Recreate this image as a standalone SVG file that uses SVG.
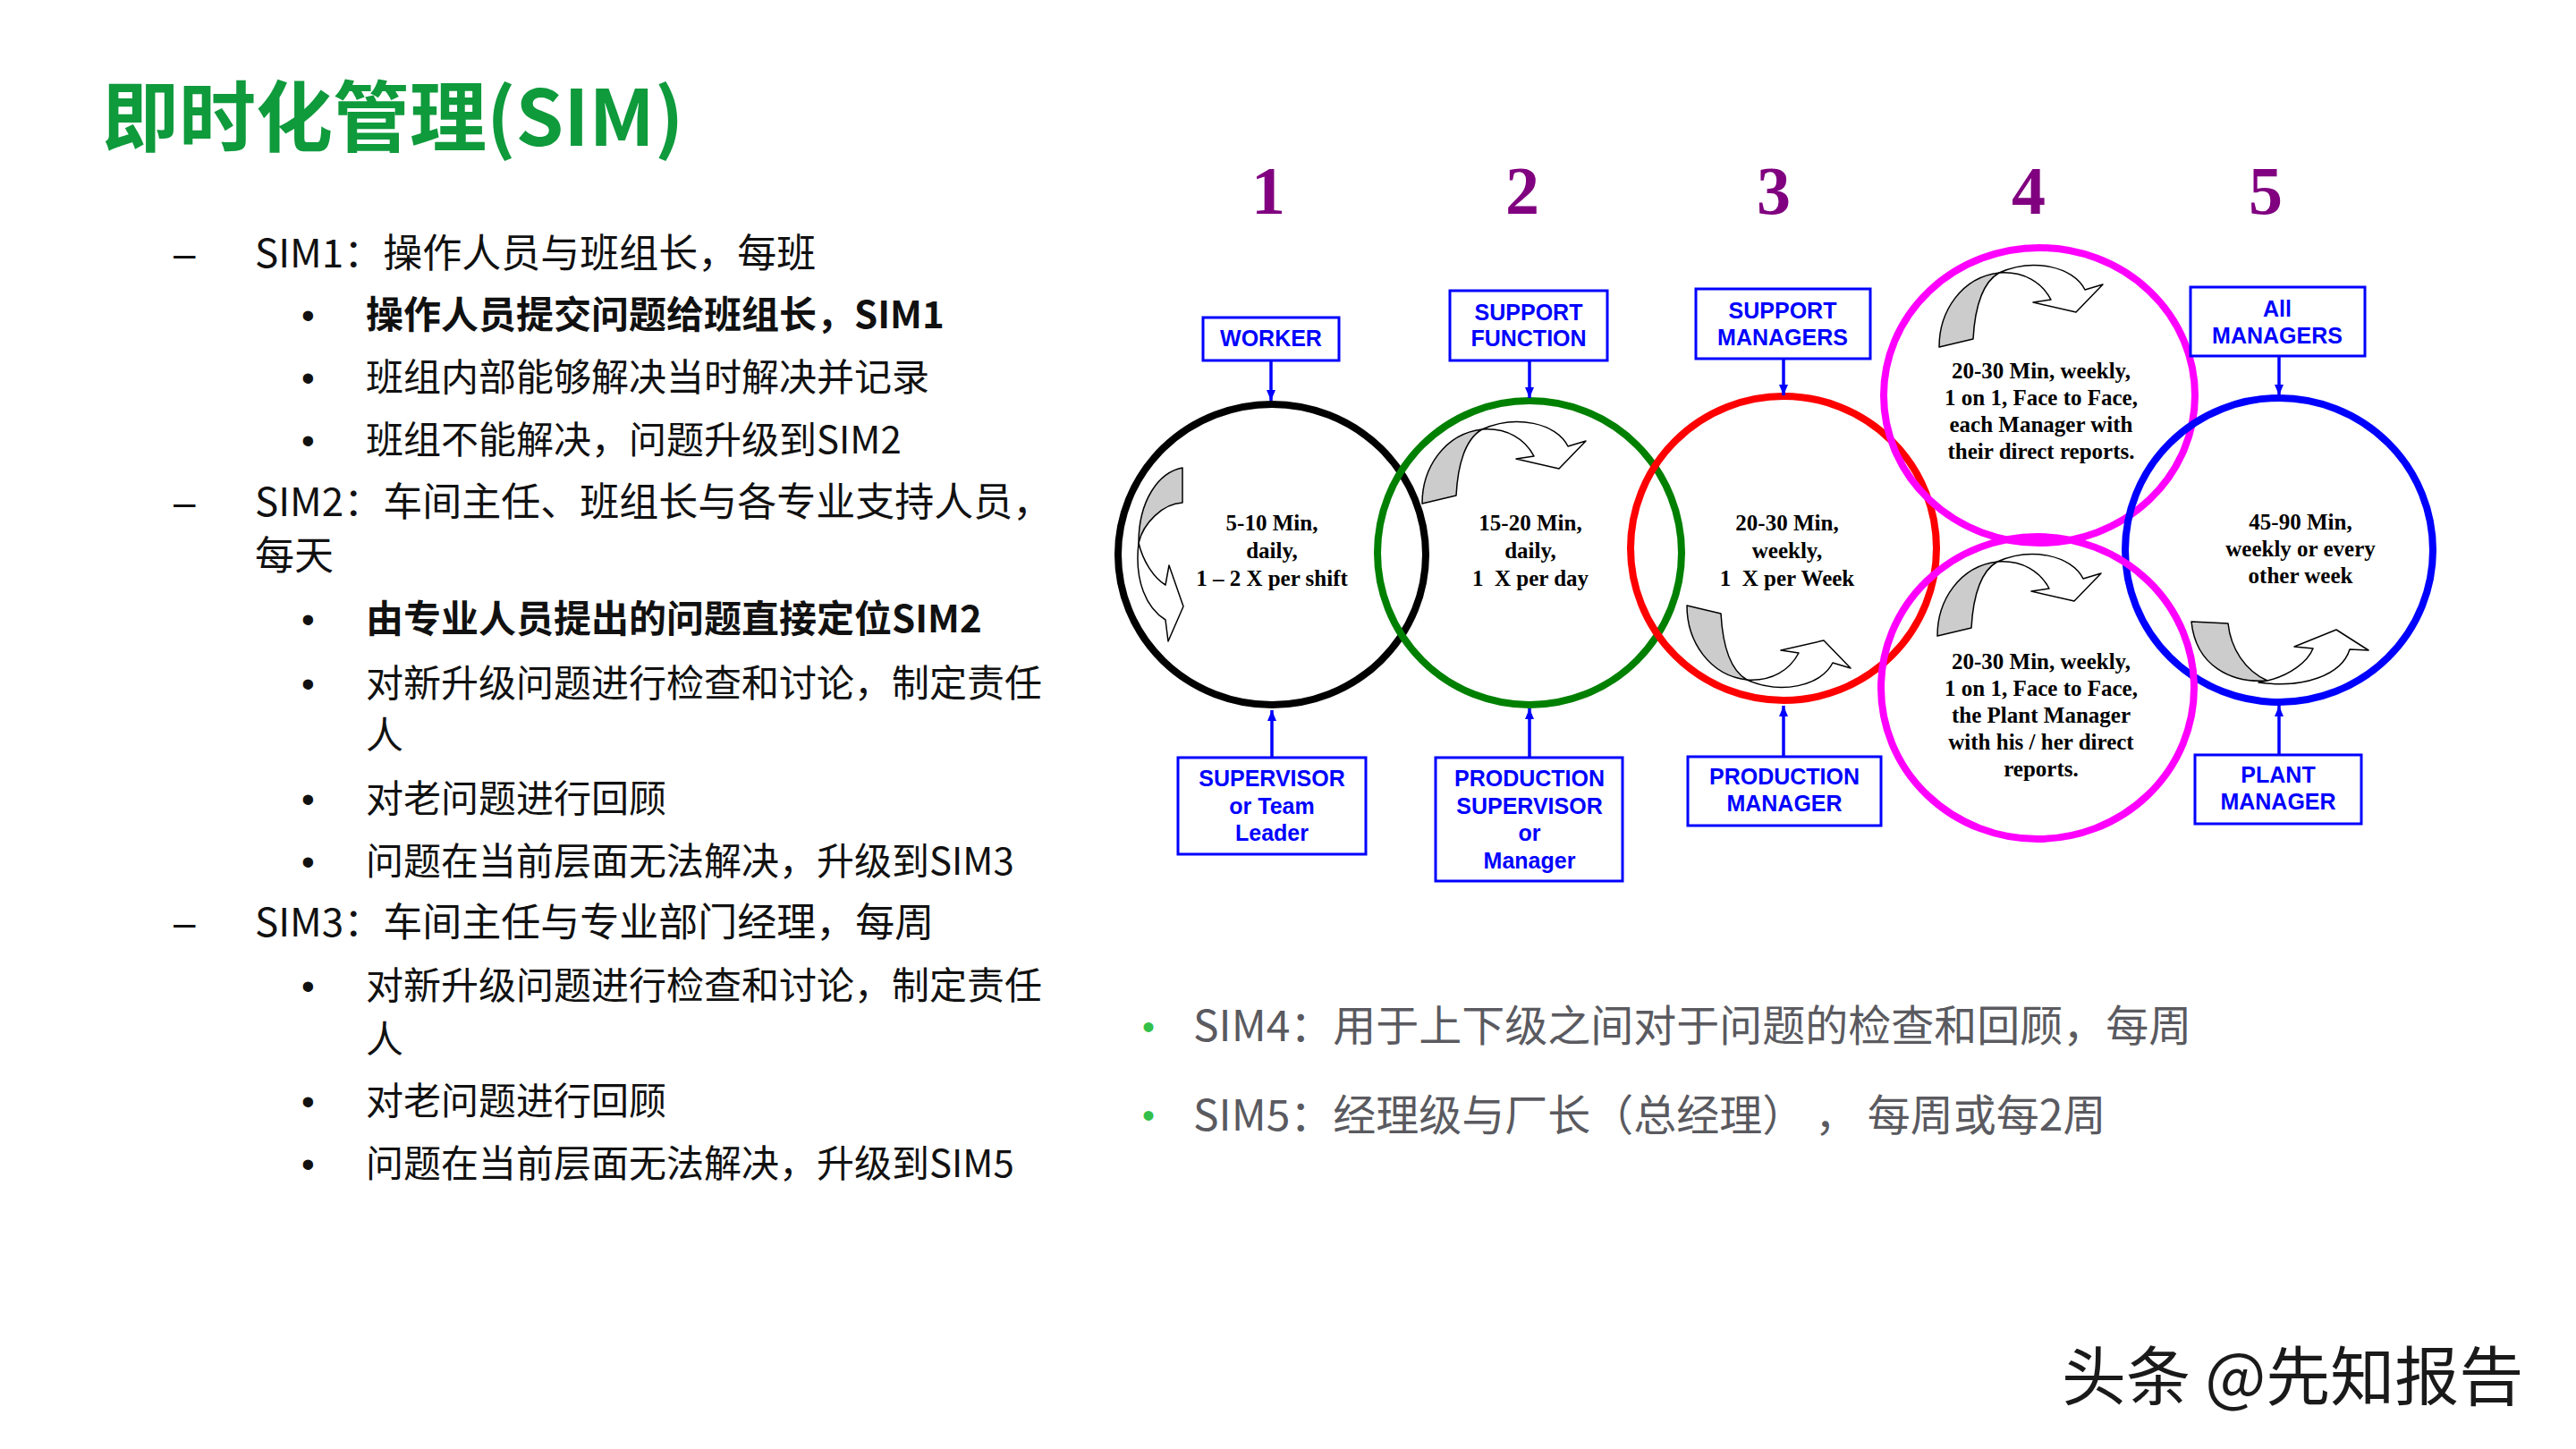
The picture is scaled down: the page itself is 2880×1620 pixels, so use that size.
<svg xmlns="http://www.w3.org/2000/svg" width="2880" height="1620" viewBox="0 0 2880 1620">
<defs>
<style>
.cn{font-family:"Noto Sans CJK SC","Noto Sans",sans-serif;}
.title{font-size:86px;font-weight:700;fill:#0f9a3c;}
.l1{font-size:44px;fill:#111;}
.l2{font-size:42px;fill:#111;}
.b{font-weight:700;}
.mk{font-family:"Liberation Sans",Arial,sans-serif;fill:#111;}
.num{font-family:"Liberation Serif","Times New Roman",serif;font-weight:700;font-size:76px;fill:#800080;text-anchor:middle;}
.box{fill:#fff;stroke:#0000ff;stroke-width:3;}
.bt{font-family:"Liberation Sans",Arial,sans-serif;font-weight:700;font-size:25px;fill:#0000ff;text-anchor:middle;}
.ct{font-family:"Liberation Serif","Times New Roman",serif;font-weight:700;font-size:25px;fill:#000;text-anchor:middle;white-space:pre;}
.ring{fill:none;stroke-width:8;}
.conn{stroke:#0000ff;stroke-width:3.5;fill:none;}
.ag{fill:#cccccc;stroke:#000;stroke-width:1.5;stroke-linejoin:round;}
.aw{fill:#fff;stroke:#000;stroke-width:1.5;stroke-linejoin:round;}
.sub{font-size:48px;fill:#5a5a60;white-space:pre;}
.gb{font-family:"Liberation Sans",Arial,sans-serif;font-size:40px;fill:#33c04a;}
</style>
<marker id="ah" markerUnits="userSpaceOnUse" markerWidth="12" markerHeight="10" refX="12" refY="5" orient="auto">
<path d="M0,0 L12,5 L0,10 Z" fill="#0000ff"/>
</marker>
<g id="carrow">
<path class="ag" d="M0,0 C0,-40 25,-78 67,-83 C48,-72 40,-45 38,-9 Z"/>
<path class="aw" d="M67,-83 C105,-100 150,-90 163,-64 L183,-70 L153,-39 L105,-50 L125,-53 C115,-72 95,-85 67,-83 Z"/>
</g>
</defs>
<rect width="2880" height="1620" fill="#fff"/>

<text class="cn title" x="114" y="163">即时化管理(SIM)</text>

<g id="list">
<text class="mk" x="194" y="299" font-size="44">–</text>
<text class="cn l1" x="285" y="299">SIM1：操作人员与班组长，每班</text>
<text class="mk" x="337" y="367" font-size="42">•</text>
<text class="cn l2 b" x="409" y="367">操作人员提交问题给班组长，SIM1</text>
<text class="mk" x="337" y="437" font-size="42">•</text>
<text class="cn l2" x="409" y="437">班组内部能够解决当时解决并记录</text>
<text class="mk" x="337" y="507" font-size="42">•</text>
<text class="cn l2" x="409" y="507">班组不能解决，问题升级到SIM2</text>
<text class="mk" x="194" y="577" font-size="44">–</text>
<text class="cn l1" x="285" y="577">SIM2：车间主任、班组长与各专业支持人员，</text>
<text class="cn l1" x="285" y="637">每天</text>
<text class="mk" x="337" y="707" font-size="42">•</text>
<text class="cn l2 b" x="409" y="707">由专业人员提出的问题直接定位SIM2</text>
<text class="mk" x="337" y="779" font-size="42">•</text>
<text class="cn l2" x="409" y="779">对新升级问题进行检查和讨论，制定责任</text>
<text class="cn l2" x="409" y="837">人</text>
<text class="mk" x="337" y="908" font-size="42">•</text>
<text class="cn l2" x="409" y="908">对老问题进行回顾</text>
<text class="mk" x="337" y="978" font-size="42">•</text>
<text class="cn l2" x="409" y="978">问题在当前层面无法解决，升级到SIM3</text>
<text class="mk" x="194" y="1047" font-size="44">–</text>
<text class="cn l1" x="285" y="1047">SIM3：车间主任与专业部门经理，每周</text>
<text class="mk" x="337" y="1117" font-size="42">•</text>
<text class="cn l2" x="409" y="1117">对新升级问题进行检查和讨论，制定责任</text>
<text class="cn l2" x="409" y="1177">人</text>
<text class="mk" x="337" y="1246" font-size="42">•</text>
<text class="cn l2" x="409" y="1246">对老问题进行回顾</text>
<text class="mk" x="337" y="1316" font-size="42">•</text>
<text class="cn l2" x="409" y="1316">问题在当前层面无法解决，升级到SIM5</text>
</g>

<g id="numbers">
<text class="num" x="1418" y="239">1</text>
<text class="num" x="1702" y="239">2</text>
<text class="num" x="1983" y="239">3</text>
<text class="num" x="2268" y="239">4</text>
<text class="num" x="2533" y="239">5</text>
</g>

<g id="sim1">
<ellipse class="ring" cx="1422" cy="620" rx="172" ry="168" stroke="#000"/>
<path class="ag" d="M1322,523 L1322,562 C1300,563 1278,585 1273,607 C1273,560 1295,528 1322,523 Z"/>
<path class="aw" d="M1273,607 C1278,628 1290,646 1303,654 L1307,632 L1323,678 L1306,717 L1303,693 C1282,680 1268,650 1273,607 Z"/>
<text class="ct" x="1422" y="593">5-10 Min,</text>
<text class="ct" x="1422" y="624">daily,</text>
<text class="ct" x="1422" y="655">1 – 2 X per shift</text>
</g>
<g id="sim2">
<ellipse class="ring" cx="1710" cy="618" rx="170" ry="170" stroke="#008000"/>
<use href="#carrow" transform="translate(1590,563)"/>
<text class="ct" x="1711" y="593">15-20 Min,</text>
<text class="ct" x="1711" y="624">daily,</text>
<text class="ct" x="1711" y="655" xml:space="preserve">1  X per day</text>
</g>
<g id="sim3">
<ellipse class="ring" cx="1994" cy="613" rx="171" ry="170" stroke="#ff0000"/>
<use href="#carrow" transform="translate(1886,677) scale(1,-1)"/>
<text class="ct" x="1998" y="593">20-30 Min,</text>
<text class="ct" x="1998" y="624">weekly,</text>
<text class="ct" x="1998" y="655" xml:space="preserve">1  X per Week</text>
</g>
<g id="sim4a">
<ellipse class="ring" cx="2280" cy="442" rx="174" ry="165" stroke="#ff00ff"/>
<use href="#carrow" transform="translate(2168,388)"/>
<text class="ct" x="2282" y="423">20-30 Min, weekly,</text>
<text class="ct" x="2282" y="453">1 on 1, Face to Face,</text>
<text class="ct" x="2282" y="483">each Manager with</text>
<text class="ct" x="2282" y="513">their direct reports.</text>
</g>
<g id="sim5">
<ellipse class="ring" cx="2548" cy="615" rx="172" ry="170" stroke="#0000ff"/>
<path class="ag" d="M2450,695 L2491,697 C2494,725 2510,750 2535,761 C2495,764 2455,745 2450,695 Z"/>
<path class="aw" d="M2535,761 C2560,755 2580,740 2586,725 L2565,723 L2612,704 L2648,727 L2627,726 C2618,755 2575,770 2525,763 Z"/>
<text class="ct" x="2572" y="592">45-90 Min,</text>
<text class="ct" x="2572" y="622">weekly or every</text>
<text class="ct" x="2572" y="652">other week</text>
</g>
<g id="sim4b">
<ellipse class="ring" cx="2278" cy="769" rx="175" ry="169" stroke="#ff00ff"/>
<use href="#carrow" transform="translate(2166,711)"/>
<text class="ct" x="2282" y="748">20-30 Min, weekly,</text>
<text class="ct" x="2282" y="778">1 on 1, Face to Face,</text>
<text class="ct" x="2282" y="808">the Plant Manager</text>
<text class="ct" x="2282" y="838">with his / her direct</text>
<text class="ct" x="2282" y="868">reports.</text>
</g>

<g id="box-worker">
<rect class="box" x="1345" y="355" width="152" height="48"/>
<text class="bt" x="1421" y="387">WORKER</text>
</g>
<g id="box-support-function">
<rect class="box" x="1621" y="325" width="176" height="78"/>
<text class="bt" x="1709" y="358">SUPPORT</text>
<text class="bt" x="1709" y="387">FUNCTION</text>
</g>
<g id="box-support-managers">
<rect class="box" x="1896" y="323" width="195" height="78"/>
<text class="bt" x="1993" y="356">SUPPORT</text>
<text class="bt" x="1993" y="386">MANAGERS</text>
</g>
<g id="box-all-managers">
<rect class="box" x="2449" y="321" width="195" height="77"/>
<text class="bt" x="2546" y="354">All</text>
<text class="bt" x="2546" y="384">MANAGERS</text>
</g>
<g id="box-supervisor">
<rect class="box" x="1317" y="847" width="210" height="108"/>
<text class="bt" x="1422" y="879">SUPERVISOR</text>
<text class="bt" x="1422" y="910">or Team</text>
<text class="bt" x="1422" y="940">Leader</text>
</g>
<g id="box-production-supervisor">
<rect class="box" x="1605" y="847" width="209" height="138"/>
<text class="bt" x="1710" y="879">PRODUCTION</text>
<text class="bt" x="1710" y="910">SUPERVISOR</text>
<text class="bt" x="1710" y="940">or</text>
<text class="bt" x="1710" y="971">Manager</text>
</g>
<g id="box-production-manager">
<rect class="box" x="1887" y="846" width="216" height="77"/>
<text class="bt" x="1995" y="877">PRODUCTION</text>
<text class="bt" x="1995" y="907">MANAGER</text>
</g>
<g id="box-plant-manager">
<rect class="box" x="2454" y="844" width="186" height="77"/>
<text class="bt" x="2547" y="875">PLANT</text>
<text class="bt" x="2547" y="905">MANAGER</text>
</g>

<g id="connectors">
<line class="conn" x1="1421" y1="403" x2="1421" y2="448" marker-end="url(#ah)"/>
<line class="conn" x1="1710" y1="403" x2="1710" y2="445" marker-end="url(#ah)"/>
<line class="conn" x1="1994" y1="401" x2="1994" y2="442" marker-end="url(#ah)"/>
<line class="conn" x1="2548" y1="398" x2="2548" y2="442" marker-end="url(#ah)"/>
<line class="conn" x1="1422" y1="847" x2="1422" y2="794" marker-end="url(#ah)"/>
<line class="conn" x1="1710" y1="847" x2="1710" y2="792" marker-end="url(#ah)"/>
<line class="conn" x1="1994" y1="846" x2="1994" y2="789" marker-end="url(#ah)"/>
<line class="conn" x1="2548" y1="844" x2="2548" y2="789" marker-end="url(#ah)"/>
</g>

<g id="notes">
<text class="gb" x="1277" y="1162">•</text>
<text class="cn sub" x="1334" y="1164">SIM4：用于上下级之间对于问题的检查和回顾，每周</text>
<text class="gb" x="1277" y="1261">•</text>
<text class="cn sub" x="1334" y="1264" xml:space="preserve">SIM5：经理级与厂长（总经理） ， 每周或每2周</text>
</g>

<text class="cn" x="2305" y="1565" font-size="72" fill="#1a1a1a">头条 @先知报告</text>
</svg>
